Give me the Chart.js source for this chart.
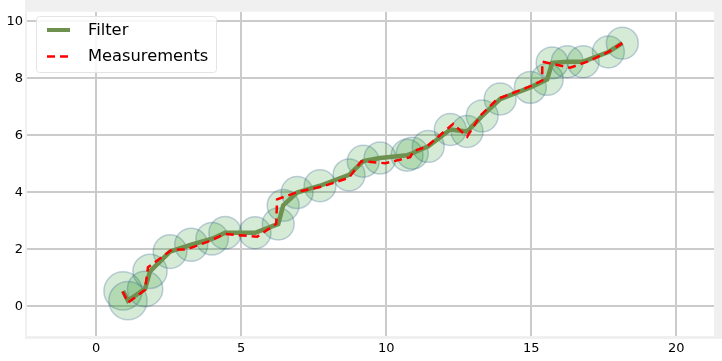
<!DOCTYPE html>
<html><head><meta charset="utf-8">
<script src="https://cdn.jsdelivr.net/npm/chart.js@4.4.0/dist/chart.umd.min.js"></script>
<style>html,body{margin:0;padding:0;background:#fff;}#wrap{width:722px;height:361px;}</style>
</head><body><div id="wrap"><canvas id="c" width="722" height="361"></canvas></div>
<script>
// Measurements (red dashed)
const measX = [0.92,1.10,1.69,1.79,2.62,3.10,3.86,4.45,5.55,6.21,6.24,6.97,7.79,8.72,9.14,9.97,10.83,10.93,11.41,12.31,12.79,13.24,13.83,14.97,15.38,15.38,16.34,16.93,17.66,18.14];
const measY = [0.52,0.13,0.58,1.37,1.99,1.99,2.27,2.54,2.44,2.89,3.75,4.02,4.20,4.51,5.09,5.02,5.23,5.44,5.61,6.40,5.95,6.68,7.27,7.72,7.92,8.58,8.37,8.58,8.92,9.23];
// Filter estimates (green)
const filtX = [0.93,1.10,1.69,1.86,2.55,3.28,4.00,4.45,5.48,6.28,6.45,6.93,7.72,8.72,9.21,9.79,10.72,10.90,11.45,12.21,12.79,13.31,13.93,14.97,15.55,15.72,16.24,16.79,17.66,18.14];
const filtY = [0.54,0.20,0.61,1.23,1.92,2.16,2.37,2.58,2.58,2.89,3.54,3.99,4.23,4.61,5.09,5.20,5.30,5.37,5.61,6.20,6.13,6.68,7.27,7.68,7.96,8.54,8.58,8.58,8.92,9.23];
// Filter standard deviation (data units) shown as circles
const filtStd = [0.66,0.66,0.61,0.59,0.58,0.57,0.56,0.56,0.55,0.55,0.55,0.55,0.55,0.55,0.55,0.55,0.55,0.55,0.55,0.55,0.55,0.55,0.55,0.55,0.55,0.55,0.55,0.55,0.55,0.55];
const xTicks = [0,5,10,15,20];
const yTicks = [0,2,4,6,8,10];
const seriesLabels = ['Filter','Measurements'];

const GREEN = '#6f9150';
const toPts = (xs, ys) => xs.map((x,i)=>({x:x, y:ys[i]}));

const framePlugin = {
  id:'frame',
  afterDatasetsDraw(chart){
    const ctx = chart.ctx, ca = chart.chartArea;
    ctx.save();
    ctx.fillStyle = '#f0f0f0';
    ctx.fillRect(ca.left-2, 0, chart.width-(ca.left-2), ca.top);
    ctx.fillRect(ca.left-2, 0, 2, ca.bottom+3);
    ctx.fillRect(ca.left-2, ca.bottom, ca.right-ca.left+2, 3);
    ctx.fillRect(ca.right, 0, chart.width-ca.right, ca.bottom+3);
    ctx.restore();
  },
  afterDraw(chart){
    const ctx = chart.ctx;
    ctx.save();
    ctx.fillStyle = 'rgba(255,255,255,0.85)';
    ctx.strokeStyle = '#e4e4e4';
    ctx.lineWidth = 1;
    ctx.beginPath();
    ctx.roundRect(36.5, 16.5, 180, 56, 3);
    ctx.fill(); ctx.stroke();
    ctx.font = '16.3px "DejaVu Sans"';
    ctx.textBaseline = 'middle';
    ctx.fillStyle = '#000';
    // Filter
    ctx.strokeStyle = GREEN; ctx.lineWidth = 4; ctx.setLineDash([]);
    ctx.beginPath(); ctx.moveTo(47,30); ctx.lineTo(70,30); ctx.stroke();
    ctx.fillText(seriesLabels[0], 88, 30.5);
    // Measurements
    ctx.strokeStyle = '#ff0000'; ctx.lineWidth = 2.5; ctx.setLineDash([8,5]);
    ctx.beginPath(); ctx.moveTo(47,56.5); ctx.lineTo(70,56.5); ctx.stroke();
    ctx.setLineDash([]);
    ctx.fillText(seriesLabels[1], 88, 57);
    ctx.restore();
  }
};

const radiusPx = (ctx) => {
  const s = ctx.chart.scales.x;
  const r = filtStd[ctx.dataIndex];
  return Math.abs(s.getPixelForValue(r) - s.getPixelForValue(0));
};

new Chart(document.getElementById('c'), {
  type:'scatter',
  data:{
    datasets:[
      {label:seriesLabels[1], data:toPts(measX,measY), showLine:true, borderColor:'#ff0000', borderWidth:2.5, borderDash:[8,5], pointRadius:0, fill:false, order:0},
      {label:seriesLabels[0], data:toPts(filtX,filtY), showLine:true, borderColor:GREEN, borderWidth:4.5, pointRadius:0, fill:false, order:1},
      {label:'cov', data:toPts(filtX,filtY), showLine:false, pointRadius:radiusPx, pointBackgroundColor:'rgba(0,128,0,0.16)', pointBorderColor:'rgba(40,90,140,0.28)', pointBorderWidth:1.5, order:2}
    ]
  },
  options:{
    responsive:false, animation:false, devicePixelRatio:1,
    layout:{padding:{top:7,right:8,left:0,bottom:0}},
    plugins:{legend:{display:false}, tooltip:{enabled:false}},
    events:[],
    scales:{
      x:{type:'linear', min:-2.38, max:21.3,
        afterBuildTicks:(a)=>{a.ticks = xTicks.map(v=>({value:v}));},
        afterFit:(a)=>{a.height = 25;},
        grid:{color:'#cbcbcb', lineWidth:2, drawTicks:false},
        border:{display:false},
        ticks:{color:'#000', font:{family:'DejaVu Sans', size:13}, padding:5, maxRotation:0}
      },
      y:{type:'linear', min:-1.04, max:10.33,
        afterBuildTicks:(a)=>{a.ticks = yTicks.map(v=>({value:v}));},
        afterFit:(a)=>{a.width = 27;},
        grid:{color:'#cbcbcb', lineWidth:2, drawTicks:false},
        border:{display:false},
        ticks:{color:'#000', font:{family:'DejaVu Sans', size:13}, padding:4}
      }
    }
  },
  plugins:[framePlugin]
});
</script></body></html>
